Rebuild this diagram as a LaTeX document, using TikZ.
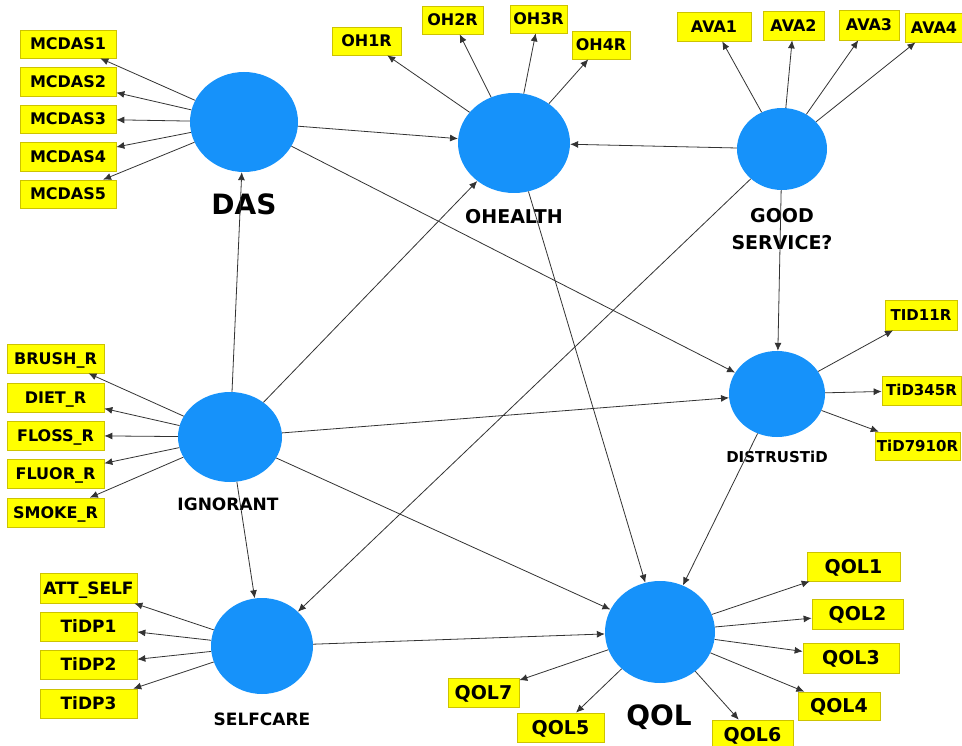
\documentclass[tikz,border=0pt]{standalone}
\usepackage{fontspec}
\setmainfont{DejaVu Sans}
\usetikzlibrary{shapes.geometric,arrows.meta}
\definecolor{lblue}{RGB}{22,146,250}
\definecolor{ybox}{RGB}{255,255,0}
\definecolor{yedge}{RGB}{205,195,0}
\newcommand\myfs[1]{\fontsize{#1}{#1}\selectfont}
\begin{document}
\begin{tikzpicture}[x=1pt,y=-1pt,
  lat/.style={ellipse, fill=lblue, draw=none, inner sep=0pt},
  indbox/.style={rectangle, fill=ybox, draw=yedge, line width=0.7pt, inner sep=0pt, text depth=0pt, align=center},
  indA/.style={indbox, font=\bfseries\myfs{16}, text height=11.7pt},
  indB/.style={indbox, font=\bfseries\myfs{15}, text height=10.9pt},
  indC/.style={indbox, font=\bfseries\myfs{17}, text height=12.4pt},
  indD/.style={indbox, font=\bfseries\myfs{19}, text height=13.9pt},
  latlbl/.style={anchor=base, inner sep=0pt, font=\bfseries},
  conn/.style={draw=black!80, line width=0.8pt, -{Latex[length=8pt,width=7pt]}}]
\useasboundingbox (0,0) rectangle (962,746);
\fill[white] (0,0) rectangle (962,746);

% latent variables
\node[lat, minimum width=108pt, minimum height=100pt] (das) at (244,122) {};
\node[lat, minimum width=112pt, minimum height=100pt] (oh) at (514,143) {};
\node[lat, minimum width=90pt, minimum height=82pt] (gs) at (782,149) {};
\node[lat, minimum width=104pt, minimum height=90pt] (ign) at (230,437) {};
\node[lat, minimum width=96pt, minimum height=86pt] (dis) at (777,394) {};
\node[lat, minimum width=102pt, minimum height=96pt] (sc) at (262,646) {};
\node[lat, minimum width=110pt, minimum height=102pt] (qol) at (660,632) {};

% latent labels
\node[latlbl, font=\bfseries\myfs{28}] (ldas) at (244,215) {DAS};
\node[latlbl, font=\bfseries\myfs{19}] (loh) at (514,224) {OHEALTH};
\node[latlbl, font=\bfseries\myfs{19}] (lgs1) at (782,223) {GOOD};
\node[latlbl, font=\bfseries\myfs{19}] (lgs2) at (782,250) {SERVICE?};
\node[latlbl, font=\bfseries\myfs{17}] (lign) at (228,510) {IGNORANT};
\node[latlbl, font=\bfseries\myfs{15}] (ldis) at (777,462) {DISTRUSTiD};
\node[latlbl, font=\bfseries\myfs{17}] (lsc) at (262,725) {SELFCARE};
\node[latlbl, font=\bfseries\myfs{28}] (lqol) at (659,725) {QOL};

% indicators
\node[indA, minimum width=96pt, minimum height=28pt] (m1) at (68,44) {MCDAS1};
\node[indA, minimum width=96pt, minimum height=29pt] (m2) at (68,81.5) {MCDAS2};
\node[indA, minimum width=96pt, minimum height=28pt] (m3) at (68,119) {MCDAS3};
\node[indA, minimum width=96pt, minimum height=29pt] (m4) at (68,156.5) {MCDAS4};
\node[indA, minimum width=96pt, minimum height=28pt] (m5) at (68,194) {MCDAS5};

\node[indA, minimum width=69pt, minimum height=28pt] (o1) at (366.5,41) {OH1R};
\node[indA, minimum width=61pt, minimum height=28pt] (o2) at (452.5,20) {OH2R};
\node[indA, minimum width=57pt, minimum height=28pt] (o3) at (538.5,19) {OH3R};
\node[indA, minimum width=58pt, minimum height=28pt] (o4) at (601,45) {OH4R};

\node[indA, minimum width=74pt, minimum height=29pt] (a1) at (714,26.5) {AVA1};
\node[indA, minimum width=61pt, minimum height=29pt] (a2) at (793.5,25.5) {AVA2};
\node[indA, minimum width=60pt, minimum height=30pt] (a3) at (869,25) {AVA3};
\node[indA, minimum width=58pt, minimum height=29pt] (a4) at (934,27.5) {AVA4};

\node[indA, minimum width=97pt, minimum height=29pt] (b1) at (55.5,358.5) {BRUSH\_R};
\node[indA, minimum width=97pt, minimum height=29pt] (b2) at (55.5,397.5) {DIET\_R};
\node[indA, minimum width=97pt, minimum height=29pt] (b3) at (55.5,435.5) {FLOSS\_R};
\node[indA, minimum width=97pt, minimum height=29pt] (b4) at (55.5,473.5) {FLUOR\_R};
\node[indA, minimum width=97pt, minimum height=29pt] (b5) at (55.5,512.5) {SMOKE\_R};

\node[indB, minimum width=72pt, minimum height=30pt] (t1) at (921,315) {TID11R};
\node[indB, minimum width=79pt, minimum height=29pt] (t2) at (921.5,390.5) {TiD345R};
\node[indB, minimum width=85pt, minimum height=28pt] (t3) at (917.5,446) {TiD7910R};

\node[indC, minimum width=97pt, minimum height=30pt] (s1) at (88.5,588) {ATT\_SELF};
\node[indC, minimum width=97pt, minimum height=29pt] (s2) at (88.5,626.5) {TiDP1};
\node[indC, minimum width=97pt, minimum height=29pt] (s3) at (88.5,664.5) {TiDP2};
\node[indC, minimum width=97pt, minimum height=29pt] (s4) at (88.5,703.5) {TiDP3};

\node[indD, minimum width=93pt, minimum height=29pt] (q1) at (853.5,566.5) {QOL1};
\node[indD, minimum width=91pt, minimum height=30pt] (q2) at (857.5,614) {QOL2};
\node[indD, minimum width=96pt, minimum height=30pt] (q3) at (851,658) {QOL3};
\node[indD, minimum width=82pt, minimum height=28pt] (q4) at (839,706) {QOL4};
\node[indD, minimum width=71pt, minimum height=29pt] (q7) at (483.5,692.5) {QOL7};
\node[indD, minimum width=87pt, minimum height=29pt] (q5) at (560.5,727.5) {QOL5};
\node[indD, minimum width=81pt, minimum height=30pt] (q6) at (752.5,735) {QOL6};

% measurement arrows
\foreach \t in {m1,m2,m3,m4,m5} \draw[conn] (das) -- (\t);
\foreach \t in {o1,o2,o3,o4} \draw[conn] (oh) -- (\t);
\foreach \t in {a1,a2,a3,a4} \draw[conn] (gs) -- (\t);
\foreach \t in {b1,b2,b3,b4,b5} \draw[conn] (ign) -- (\t);
\foreach \t in {t1,t2,t3} \draw[conn] (dis) -- (\t);
\foreach \t in {s1,s2,s3,s4} \draw[conn] (sc) -- (\t);
\foreach \t in {q1,q2,q3,q4,q5,q6,q7} \draw[conn] (qol) -- (\t);

% structural paths
\draw[conn] (ign) -- (das);
\draw[conn] (das) -- (oh);
\draw[conn] (das) -- (dis);
\draw[conn] (gs) -- (oh);
\draw[conn] (gs) -- (dis);
\draw[conn] (gs) -- (sc);
\draw[conn] (ign) -- (oh);
\draw[conn] (ign) -- (dis);
\draw[conn] (ign) -- (sc);
\draw[conn] (ign) -- (qol);
\draw[conn] (oh) -- (qol);
\draw[conn] (dis) -- (qol);
\draw[conn] (sc) -- (qol);
\end{tikzpicture}
\end{document}
